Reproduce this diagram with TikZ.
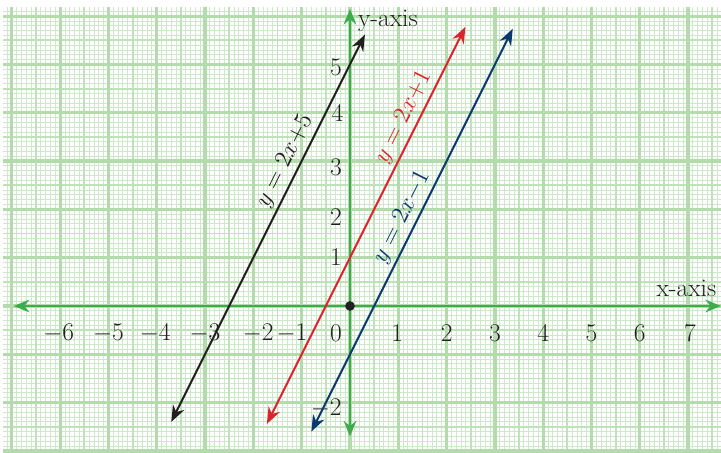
\documentclass[tikz,border=0pt]{standalone}
\usetikzlibrary{arrows.meta}
\definecolor{gridminor}{RGB}{206,233,201}
\definecolor{gridmid}{RGB}{192,226,186}
\definecolor{gridmajor}{RGB}{180,219,172}
\definecolor{axisgreen}{RGB}{62,172,76}
\definecolor{lineblack}{RGB}{35,31,32}
\definecolor{linered}{RGB}{220,36,46}
\definecolor{lineblue}{RGB}{12,56,112}
\tikzset{
  axisline/.style={draw=axisgreen,line width=1.6pt,-{Stealth[length=3.2mm,width=2.6mm]}},
  graphline/.style={line width=1.2pt,{Stealth[length=3.4mm,width=2.6mm]}-{Stealth[length=3.4mm,width=2.6mm]}},
  ticklab/.style={inner sep=0pt,text=lineblack,font=\fontsize{15}{17}\selectfont},
  eqlab/.style={sloped,above,inner sep=2pt,font=\fontsize{14.5}{17}\selectfont}
}
\begin{document}
\begin{tikzpicture}
\useasboundingbox[fill=white] (-7.246,-3.023) rectangle (7.681,6.335);
\begin{scope}
\clip (-7.18,-3.023) rectangle (7.681,6.17);
\draw[gridminor,line width=0.55pt,step=0.1] (-7.3,-3.1) grid (7.8,6.3);
\draw[gridmid,line width=1.1pt,step=0.5] (-7.3,-3.1) grid (7.8,6.3);
\draw[gridmajor,line width=1.9pt,step=1] (-7.3,-3.1) grid (7.8,6.3);
\end{scope}
% axes
\coordinate (xl) at (-6.96,0);
\coordinate (xr) at (7.68,0);
\coordinate (yb) at (0,-2.7);
\coordinate (yt) at (0,6.15);
\coordinate (O) at (0,0);
\draw[axisline] (O) -- (xl);
\draw[axisline] (O) -- (xr);
\draw[axisline] (O) -- (yb);
\draw[axisline] (O) -- (yt);
\node[ticklab,anchor=west] (xlab) at (6.34,0.37) {x-axis};
\node[ticklab,anchor=west] (ylab) at (0.16,5.9) {y-axis};
\fill[lineblack] (O) circle (0.1);
% x tick labels
\node[ticklab] (xm6) at (-6.03,-0.56) {$-$6};
\node[ticklab] (xm5) at (-5.0,-0.56) {$-$5};
\node[ticklab] (xm4) at (-4.03,-0.56) {$-$4};
\node[ticklab] (xm3) at (-3.0,-0.56) {$-$3};
\node[ticklab] (xm2) at (-1.9,-0.56) {$-$2};
\node[ticklab] (xm1) at (-1.2,-0.56) {$-$1};
\node[ticklab] (x0) at (-0.29,-0.56) {0};
\node[ticklab] (x1) at (0.98,-0.56) {1};
\node[ticklab] (x2) at (2.0,-0.56) {2};
\node[ticklab] (x3) at (3.0,-0.56) {3};
\node[ticklab] (x4) at (4.0,-0.56) {4};
\node[ticklab] (x5) at (5.0,-0.56) {5};
\node[ticklab] (x6) at (6.0,-0.56) {6};
\node[ticklab] (x7) at (7.04,-0.56) {7};
% y tick labels
\node[ticklab] (y1) at (-0.29,1.01) {1};
\node[ticklab] (y2) at (-0.29,1.84) {2};
\node[ticklab] (y3) at (-0.29,2.88) {3};
\node[ticklab] (y4) at (-0.26,4.0) {4};
\node[ticklab] (y5) at (-0.29,4.95) {5};
\node[ticklab] (ym2) at (-0.49,-2.11) {$-$2};
% graph lines
\coordinate (b1) at (-3.7,-2.4);
\coordinate (b2) at (0.31,5.62);
\coordinate (r1) at (-1.72,-2.44);
\coordinate (r2) at (2.39,5.78);
\coordinate (u1) at (-0.8,-2.6);
\coordinate (u2) at (3.37,5.74);
\draw[graphline,lineblack] (b1) -- node[eqlab,pos=0.656] (eqb) {$y = 2x{+}5$} (b2);
\draw[graphline,linered] (r1) -- node[eqlab,pos=0.756] (eqr) {$y = 2x{+}1$} (r2);
\draw[graphline,lineblue] (u1) -- node[eqlab,pos=0.516] (equ) {$y = 2x{-}1$} (u2);
\end{tikzpicture}
\end{document}
